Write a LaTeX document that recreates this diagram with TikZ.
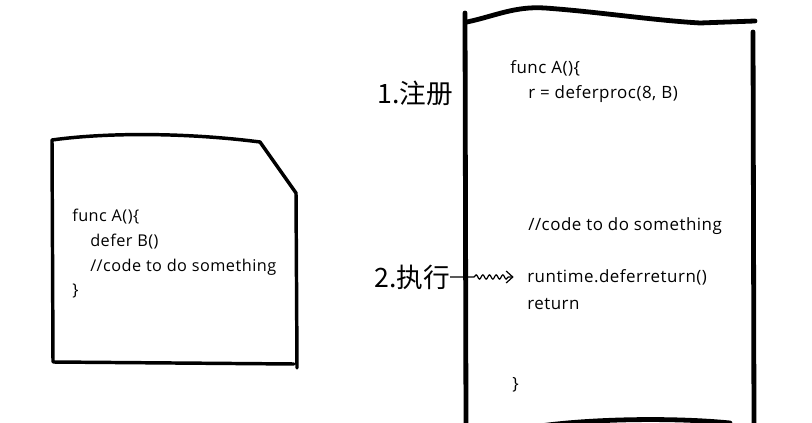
\documentclass[tikz,border=0pt]{standalone}
\usepackage{fontspec}
\setmainfont[LetterSpace=3]{Open Sans}
\newfontfamily\cjk{Noto Sans CJK SC}
\usetikzlibrary{arrows.meta,decorations.pathmorphing}
\begin{document}
\begin{tikzpicture}[x=0.75pt,y=-0.75pt,
  boxline/.style={line width=2.6pt,line join=round,line cap=round,black},
  bigbox/.style={line width=3.6pt,line join=round,line cap=round,black},
  code/.style={anchor=base west,inner sep=0pt,font=\fontsize{12.2pt}{14pt}\selectfont},
  codeb/.style={anchor=base west,inner sep=0pt,font=\fontsize{12.7pt}{14pt}\selectfont},
  lbl/.style={anchor=west,inner sep=0pt,font=\cjk\fontsize{20pt}{22pt}\selectfont}]
\useasboundingbox (0,0) rectangle (812,423);
% left box
\draw[boxline] (297,368) -- (296,193) -- (260,142)
  .. controls (190,133) and (110,132) .. (52,140) -- (53,362) -- (294,364);
\node[code] (l1) at (72,222) {func A()\{};
\node[code] (l2) at (90,247) {defer B()};
\node[code] (l3) at (90,272) {//code to do something};
\node[code] (l4) at (72,296) {\}};
% right box
\draw[bigbox] (465,13) -- (466,430);
\draw[bigbox] (467,22) .. controls (495,16) and (515,6) .. (545,8)
  .. controls (600,12) and (650,20) .. (700,23) -- (755,21);
\draw[bigbox] (753,32) -- (754,430);
\draw[bigbox] (540,426) .. controls (600,418) and (680,418) .. (730,423);
\node[codeb] (r1) at (510,74) {func A()\{};
\node[codeb] (r2) at (528,99) {r = deferproc(8, B)};
\node[codeb] (r3) at (528,231) {//code to do something};
\node[codeb] (r4) at (527,283) {runtime.deferreturn()};
\node[codeb] (r5) at (527,310) {return};
\node[codeb] (r6) at (512,389) {\}};
% labels
\node[lbl] (a1) at (377,93) {1.注册};
\node[lbl] (a2) at (374,277) {2.执行};
\draw[line width=0.9pt,-{Straight Barb[length=5pt,width=9pt]},
  decorate,decoration={snake,amplitude=1.6,segment length=5,pre length=18,post length=4}]
  (a2.east) -- ([xshift=-10pt]a2.east -| r4.west);
\end{tikzpicture}
\end{document}
